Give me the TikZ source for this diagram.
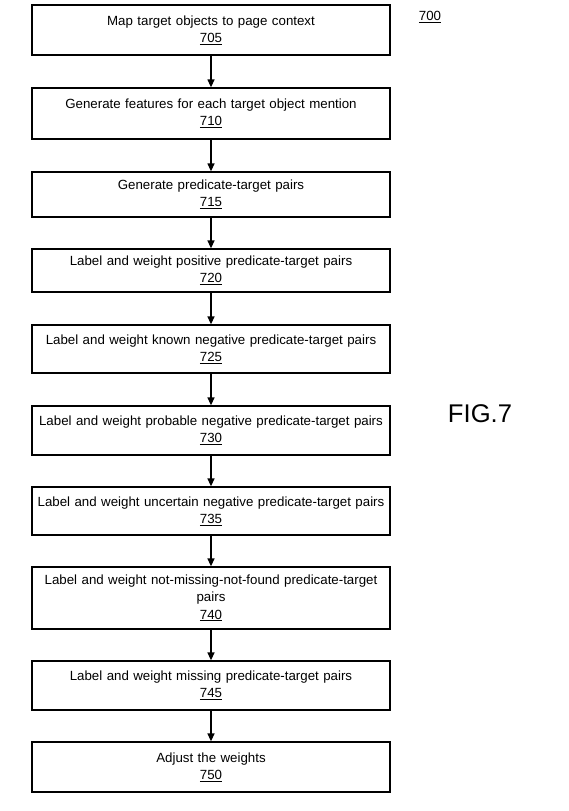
\documentclass[tikz,border=0pt]{standalone}
\usepackage{fontspec}
\setmainfont{Liberation Sans}
\usetikzlibrary{arrows.meta}
\begin{document}
\begin{tikzpicture}[x=1pt,y=-1pt,
  stepbox/.style={draw=black, line width=1.3pt, rectangle, minimum width=358pt, text width=350pt, align=center, inner sep=0pt, font=\fontsize{13.3}{17.3}\selectfont},
  flow/.style={draw=black, line width=1.3pt, -{Triangle[length=8pt,width=7pt]}}]
\useasboundingbox (0,0) rectangle (568,811);
\node[stepbox, minimum height=50pt] (b1) at (211,30) {Map target objects to page context\\\underline{705}};
\node[stepbox, minimum height=51pt] (b2) at (211,113.5) {Generate features for each target object mention\\\underline{710}};
\node[stepbox, minimum height=45pt] (b3) at (211,194.5) {Generate predicate-target pairs\\\underline{715}};
\node[stepbox, minimum height=43pt] (b4) at (211,270.5) {Label and weight positive predicate-target pairs\\\underline{720}};
\node[stepbox, minimum height=48pt] (b5) at (211,349) {Label and weight known negative predicate-target pairs\\\underline{725}};
\node[stepbox, minimum height=49pt] (b6) at (211,430.5) {Label and weight probable negative predicate-target pairs\\\underline{730}};
\node[stepbox, minimum height=48pt] (b7) at (211,511) {Label and weight uncertain negative predicate-target pairs\\\underline{735}};
\node[stepbox, minimum height=62pt] (b8) at (211,598) {Label and weight not-missing-not-found predicate-target\\pairs\\\underline{740}};
\node[stepbox, minimum height=49pt] (b9) at (211,685.5) {Label and weight missing predicate-target pairs\\\underline{745}};
\node[stepbox, minimum height=50pt] (b10) at (211,767) {Adjust the weights\\\underline{750}};
\node[font=\fontsize{13.3}{16}\selectfont, inner sep=0pt] (ref) at (430,17) {\underline{700}};
\node[font=\fontsize{25.6}{30}\selectfont, inner sep=0pt] (fig) at (480,414) {FIG.7};
\foreach \a/\b in {b1/b2,b2/b3,b3/b4,b4/b5,b5/b6,b6/b7,b7/b8,b8/b9,b9/b10}
  \draw[flow] (\a.south) -- (\b.north);
\end{tikzpicture}
\end{document}
